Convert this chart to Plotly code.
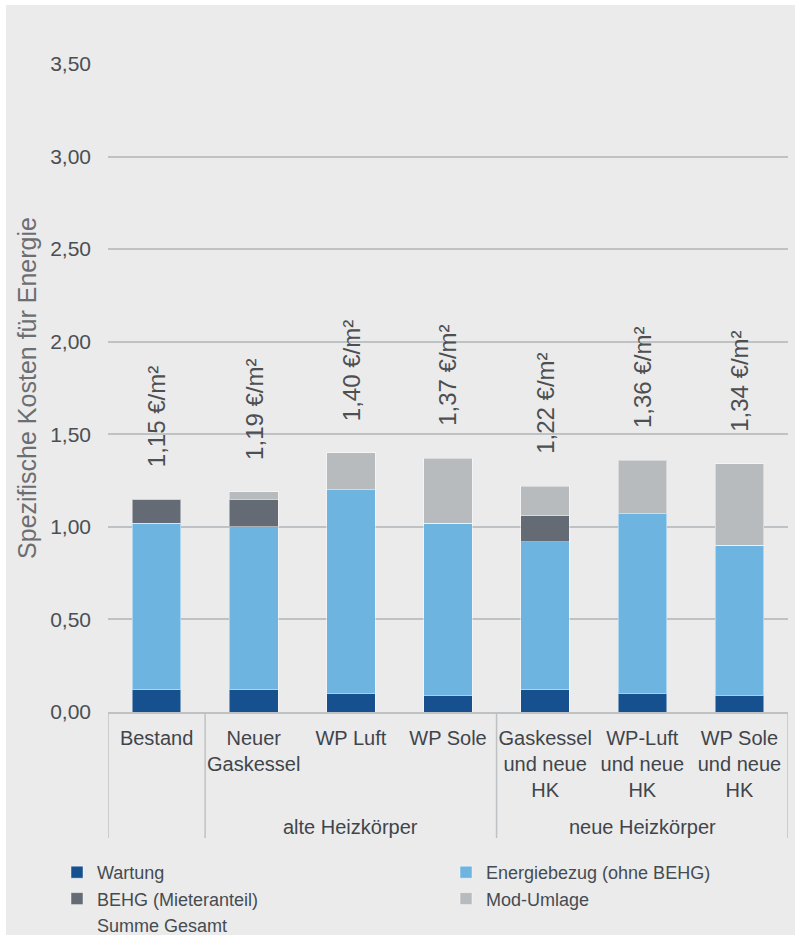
import plotly.graph_objects as go

# ---------------- data ----------------
categories = ["Bestand", "Neuer<br>Gaskessel", "WP Luft", "WP Sole",
              "Gaskessel<br>und neue<br>HK", "WP-Luft<br>und neue<br>HK", "WP Sole<br>und neue<br>HK"]
wartung = [0.12, 0.12, 0.10, 0.09, 0.12, 0.10, 0.09]
energiebezug = [0.90, 0.88, 1.10, 0.93, 0.80, 0.97, 0.81]
behg = [0.13, 0.15, 0.00, 0.00, 0.14, 0.00, 0.00]
mod_umlage = [0.00, 0.04, 0.20, 0.35, 0.16, 0.29, 0.44]
summe_gesamt = [1.15, 1.19, 1.40, 1.37, 1.22, 1.36, 1.34]

group_labels = ["alte Heizkörper", "neue Heizkörper"]
group_centers = [2, 5]          # category index at group centre
group_bounds = [-0.5, 0.5, 3.5, 6.5]  # divider positions between category groups

series_names = ["Wartung", "Energiebezug (ohne BEHG)", "BEHG (Mieteranteil)", "Mod-Umlage"]
series_colors = ["#17508e", "#6db4e0", "#646b74", "#b7bbbe"]
y_title = "Spezifische Kosten für Energie"
y_ticks = [0, 0.5, 1.0, 1.5, 2.0, 2.5, 3.0, 3.5]

# ---------------- layout constants ----------------
W, H = 795, 937
ML, MR, MT, MB = 108, 7, 64, 225
PW, PH = W - ML - MR, H - MT - MB
TXT = "Liberation Sans, Arial, sans-serif"


def px_x(p):
    return (p - ML) / PW


def px_y(p):
    return (H - MB - p) / PH


fig = go.Figure()
for name, vals, col in zip(series_names, [wartung, energiebezug, behg, mod_umlage], series_colors):
    fig.add_trace(go.Bar(
        x=categories, y=vals, name=name,
        marker=dict(color=col, line=dict(color="rgba(255,255,255,0.45)", width=1)),
        hoverinfo="skip",
    ))

fig.add_trace(go.Scatter(
    x=categories, y=summe_gesamt, name="Summe Gesamt", mode="lines",
    line=dict(color="rgba(0,0,0,0)", width=0), hoverinfo="skip",
))

annotations = []
for c, v in zip(categories, summe_gesamt):
    annotations.append(dict(
        x=c, y=v, xref="x", yref="y", text=f"{v:.2f}".replace(".", ",") + " €/m²",
        textangle=-90, showarrow=False, yanchor="bottom", xanchor="center", yshift=30,
        font=dict(family=TXT, size=24, color="#4d4f52"),
    ))
for g, gc in zip(group_labels, group_centers):
    annotations.append(dict(
        x=gc, y=px_y(827), xref="x", yref="paper", text=g, showarrow=False,
        yanchor="middle", xanchor="center",
        font=dict(family=TXT, size=20, color="#3f454b"),
    ))

shapes = [dict(type="rect", xref="paper", yref="paper", layer="below",
               x0=px_x(6), x1=px_x(W + 2), y0=px_y(935), y1=px_y(5),
               fillcolor="#ebebeb", line=dict(width=0))]
for b in group_bounds:
    shapes.append(dict(type="line", xref="x", yref="paper", x0=b, x1=b,
                       y0=0, y1=px_y(838), line=dict(color="#bec2c5", width=1.5)))

fig.update_layout(
    width=W, height=H,
    margin=dict(l=ML, r=MR, t=MT, b=MB, autoexpand=False),
    barmode="stack", bargap=0.5,
    paper_bgcolor="white", plot_bgcolor="rgba(0,0,0,0)",
    separators=", ",
    font=dict(family=TXT, size=20, color="#3f454b"),
    showlegend=True,
    legend=dict(
        orientation="h", x=px_x(57), xanchor="left", y=px_y(854), yanchor="top",
        entrywidth=344, entrywidthmode="pixels", traceorder="normal",
        font=dict(family=TXT, size=18, color="#454b52"), bgcolor="rgba(0,0,0,0)",
    ),
    annotations=annotations,
    shapes=shapes,
)
fig.update_xaxes(
    type="category", range=[-0.5, 6.5], showgrid=False,
    showline=True, linecolor="#bec2c5", linewidth=1.5,
    ticks="outside", ticklen=7, tickcolor="rgba(0,0,0,0)",
    tickfont=dict(family=TXT, size=20, color="#3f454b"), tickangle=0,
)
fig.update_yaxes(
    range=[0, 3.5], tickvals=y_ticks, tickformat=".2f",
    showgrid=True, gridcolor="#bec2c5", gridwidth=1.5, zeroline=False,
    showline=False, ticks="", ticklabelstandoff=16,
    tickfont=dict(family=TXT, size=21, color="#4a4f55"),
    title=dict(text=y_title, font=dict(family=TXT, size=25, color="#6b6e72"), standoff=6),
)

fig.write_html("out.html")
